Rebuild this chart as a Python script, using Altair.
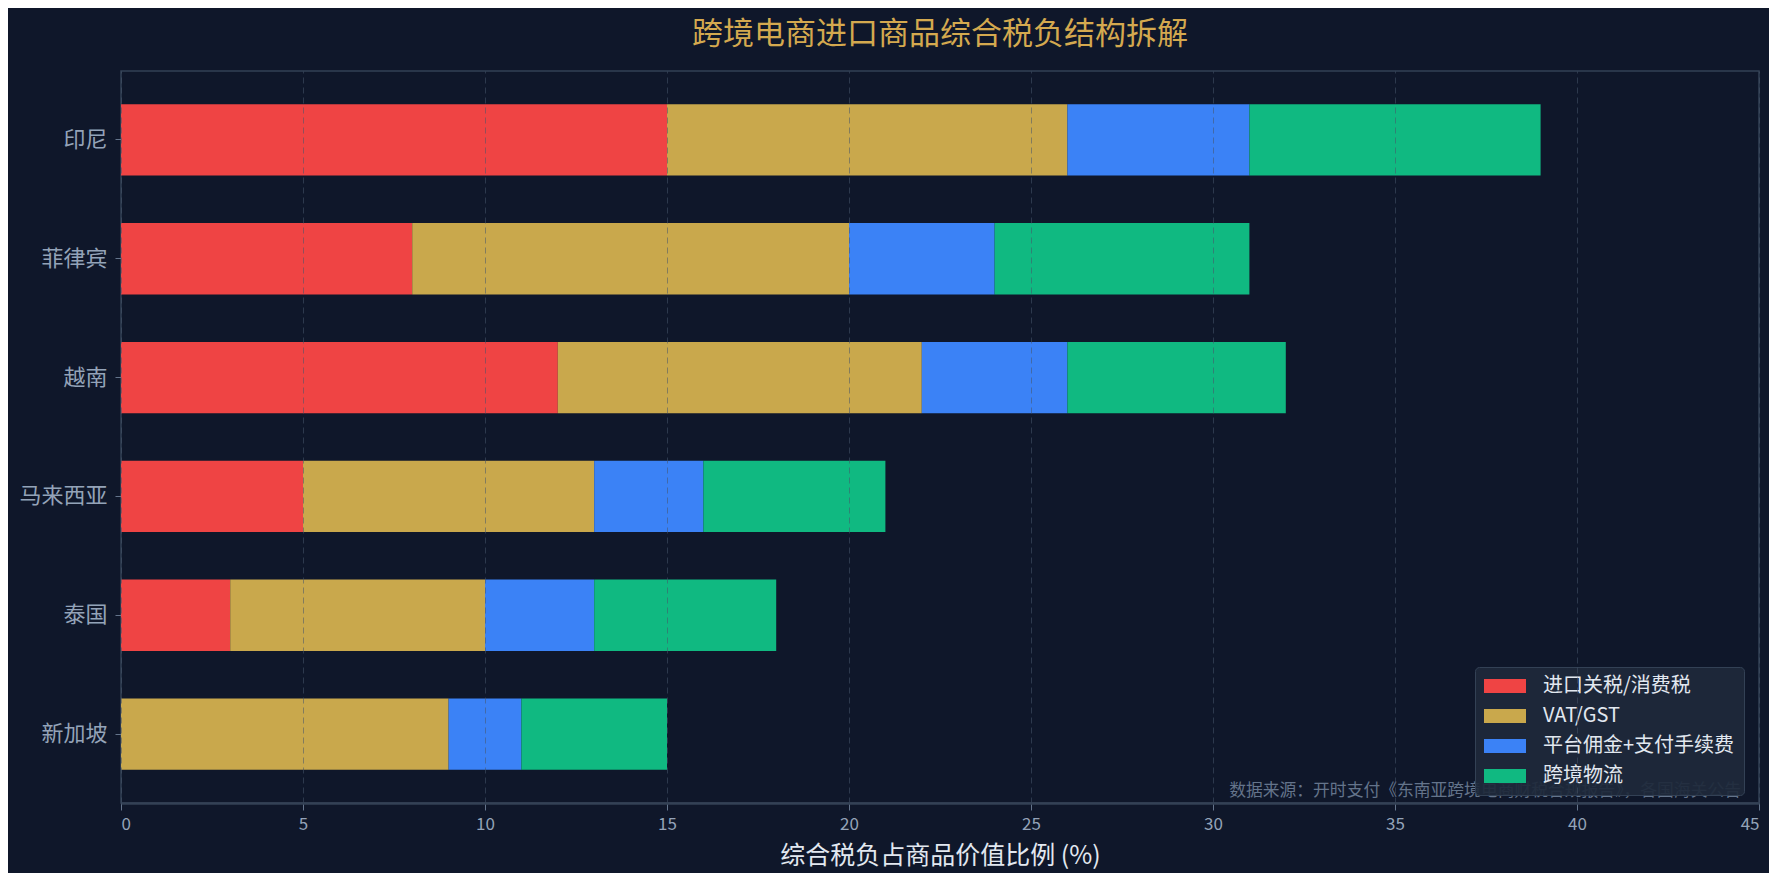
import altair as alt
import pandas as pd

countries = ["印尼", "菲律宾", "越南", "马来西亚", "泰国", "新加坡"]
components = ["进口关税/消费税", "VAT/GST", "平台佣金+支付手续费", "跨境物流"]
import_tax = [15, 8, 12, 5, 3, 0]
vat_gst = [11, 12, 10, 8, 7, 9]
platform_fee = [5, 4, 4, 3, 3, 2]
logistics = [8, 7, 6, 5, 5, 4]
colors = ["#ef4444", "#c9a84c", "#3b82f6", "#10b981"]
x_ticks = [0, 5, 10, 15, 20, 25, 30, 35, 40, 45]
source_note = "数据来源：开时支付《东南亚跨境电商财税合规报告》，各国海关公告"

series = [import_tax, vat_gst, platform_fee, logistics]
rows = []
for ci, comp in enumerate(components):
    for c, v in zip(countries, series[ci]):
        rows.append({"country": c, "component": comp, "value": v, "idx": ci})
df = pd.DataFrame(rows)

FONT = "Noto Sans CJK SC"
W, H = 1638, 732

bars = alt.Chart(df).mark_bar().encode(
    y=alt.Y("country:N", sort=countries,
            scale=alt.Scale(paddingInner=0.4, paddingOuter=0.28),
            axis=alt.Axis(title=None, labelFontSize=22, labelColor="#94a3b8",
                          labelFont=FONT, tickColor="#64748b", tickSize=6,
                          labelPadding=8, domain=False, grid=False)),
    x=alt.X("value:Q", stack="zero",
            scale=alt.Scale(domain=[0, 45], nice=False, zero=True),
            axis=alt.Axis(values=x_ticks, title="综合税负占商品价值比例 (%)",
                          titleFontSize=25, titleColor="#e2e8f0", titleFont=FONT,
                          titleFontWeight="normal", titlePadding=11,
                          labelFontSize=17, labelColor="#94a3b8", labelFont=FONT,
                          labelPadding=6, tickColor="#64748b", tickSize=7,
                          domainColor="#334155", domainWidth=2.5,
                          grid=True, gridColor="#475569", gridOpacity=0.55,
                          gridDash=[6, 4], gridWidth=1, zindex=1)),
    color=alt.Color("component:N", sort=components,
                    scale=alt.Scale(domain=components, range=colors),
                    legend=alt.Legend(orient="none", legendX=1354, legendY=596,
                                      title=None, fillColor="rgba(30,41,59,0.92)",
                                      strokeColor="#334155", cornerRadius=4, padding=9,
                                      symbolType="M-1,-0.333H1V0.333H-1Z",
                                      symbolSize=1764, symbolStrokeWidth=0,
                                      symbolOpacity=1, labelFontSize=20,
                                      labelColor="#e2e8f0", labelFont=FONT,
                                      clipHeight=20, rowPadding=10, labelOffset=17,
                                      labelLimit=400)),
    order=alt.Order("idx:Q", sort="ascending"),
)

note = alt.Chart(pd.DataFrame({"t": [source_note]})).mark_text(
    align="right", baseline="middle", fontSize=16.8, color="#64748b", font=FONT
).encode(x=alt.value(W - 18), y=alt.value(H - 12), text="t:N")

chart = alt.layer(bars, note).properties(
    width=W, height=H,
    title=alt.Title("跨境电商进口商品综合税负结构拆解", fontSize=31, color="#d4a94f",
                    font=FONT, fontWeight="normal", anchor="middle", offset=20),
    background="#0f172a",
    padding={"left": 113, "top": 63, "right": 10, "bottom": 70},
    autosize=alt.AutoSizeParams(type="none"),
).configure_view(stroke="#334155", strokeWidth=1.5, fill="#0f172a")

chart.save("out.html", embed_options={"renderer": "svg", "actions": False})
